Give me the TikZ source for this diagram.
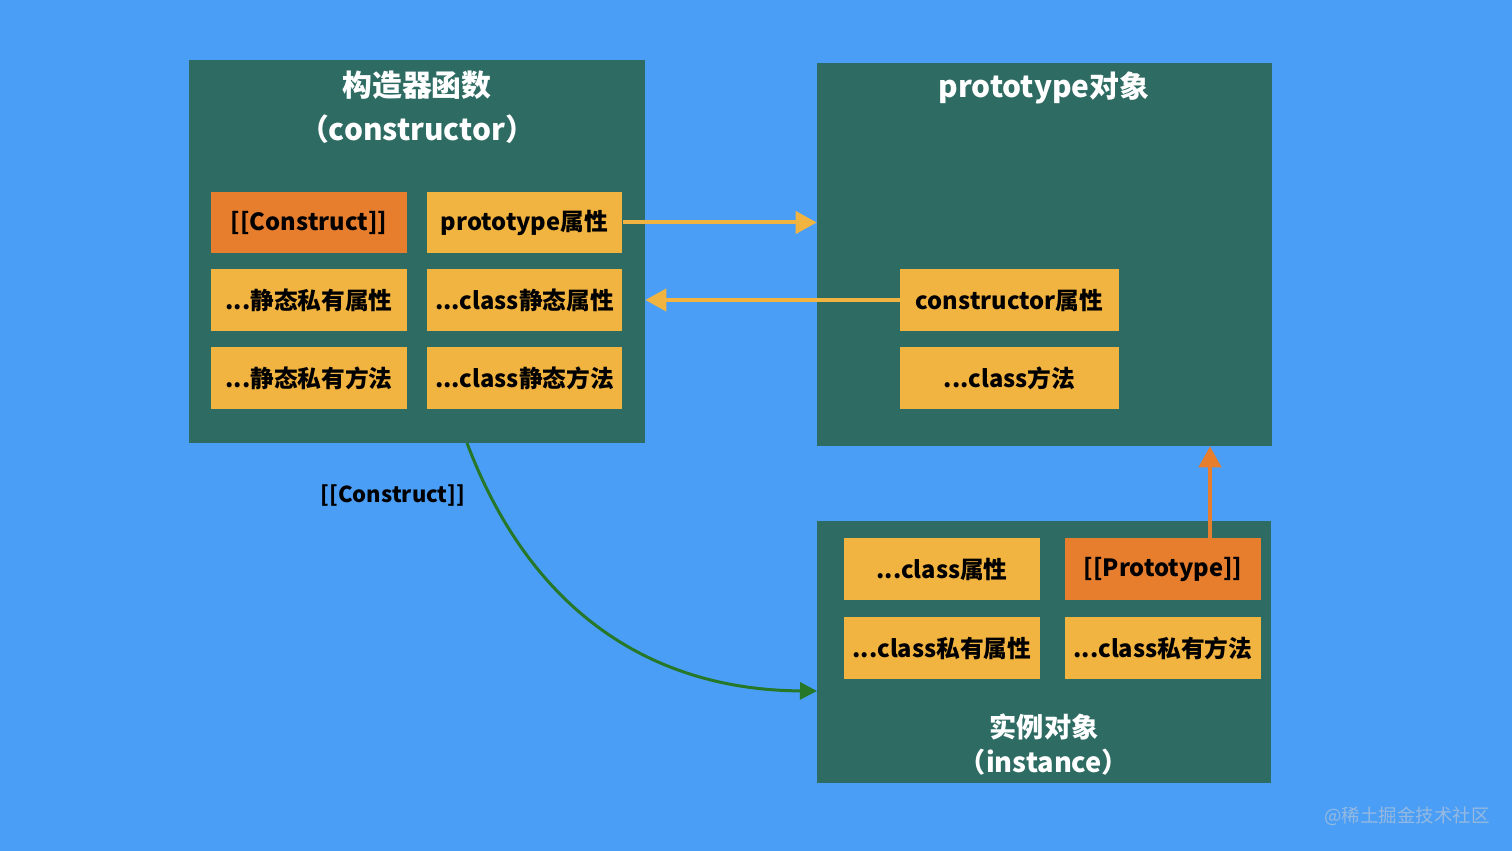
\documentclass[tikz,border=0pt]{standalone}
\usepackage{fontspec}
\setmainfont{Noto Sans CJK SC}
\usetikzlibrary{arrows.meta}
\definecolor{bgblue}{RGB}{74,158,245}
\definecolor{teal}{RGB}{45,107,99}
\definecolor{ybox}{RGB}{242,180,65}
\definecolor{obox}{RGB}{230,126,46}
\definecolor{gline}{RGB}{38,120,40}
\definecolor{wm}{RGB}{150,185,225}
\tikzset{
  panel/.style={fill=teal, draw=none, inner sep=0pt},
  cell/.style={fill=ybox, draw=none, minimum width=3.92cm, minimum height=1.24cm, inner sep=0pt, font=\fontsize{13.5}{16}\selectfont\bfseries, text=black},
  ocell/.style={cell, fill=obox},
  ttl/.style={text=white, font=\fontsize{17}{20}\selectfont\bfseries, align=center},
  yarrow/.style={draw=ybox, line width=0.08cm, -{Triangle[length=0.42cm,width=0.44cm]}},
}
\begin{document}
\begin{tikzpicture}[x=0.02cm,y=-0.02cm]
\useasboundingbox (0,0) rectangle (1512,851);
\fill[bgblue] (0,0) rectangle (1512,851);
% panels
\node[panel, minimum width=9.12cm, minimum height=7.66cm] (ctor) at (417,251.5) {};
\node[panel, minimum width=9.1cm, minimum height=7.66cm] (proto) at (1044.5,254.5) {};
\node[panel, minimum width=9.08cm, minimum height=5.24cm] (inst) at (1044,652) {};
% titles
\node[ttl] (t1) at (417,85) {构造器函数};
\node[ttl] (t1b) at (417,129) {（constructor）};
\node[ttl] (t2) at (1044,88) {prototype对象};
\node[ttl, font=\fontsize{15.5}{18}\selectfont\bfseries] (t3) at (1044,727) {实例对象};
\node[ttl, font=\fontsize{15.5}{18}\selectfont\bfseries] (t3b) at (1044,762) {（instance）};
% left cells
\node[ocell] (c11) at (309,222.5) {[[Construct]]};
\node[cell] (c12) at (524.5,222.5) {prototype属性};
\node[cell] (c21) at (309,300) {...静态私有属性};
\node[cell] (c22) at (524.5,300) {...class静态属性};
\node[cell] (c31) at (309,378) {...静态私有方法};
\node[cell] (c32) at (524.5,378) {...class静态方法};
% right cells
\node[cell, minimum width=4.38cm] (p1) at (1009.5,300) {constructor属性};
\node[cell, minimum width=4.38cm] (p2) at (1009.5,378) {...class方法};
% bottom cells
\node[cell] (i11) at (942,569) {...class属性};
\node[ocell] (i12) at (1163,569) {[[Prototype]]};
\node[cell] (i21) at (942,648) {...class私有属性};
\node[cell] (i22) at (1163,648) {...class私有方法};
% arrows
\draw[yarrow] (c12.east) -- (c12.east -| proto.west);
\draw[yarrow] (p1.west) -- (p1.west -| ctor.east);
\draw[draw=obox, line width=0.08cm, -{Triangle[length=0.42cm,width=0.44cm]}] ([xshift=0.94cm]i12.north) -- ([xshift=0.94cm]i12.north |- proto.south);
\coordinate (gs) at (467,443);
\coordinate (ge) at (817,691);
\draw[draw=gline, line width=0.06cm, -{Triangle[length=0.34cm,width=0.34cm]}] (gs) .. controls (530,610) and (650,690) .. (ge);
\node[font=\fontsize{12.5}{15}\selectfont\bfseries, text=black] (lbl) at (393,496) {[[Construct]]};
\node[font=\fontsize{10.5}{12}\selectfont, text=wm] (wmk) at (1407,816) {@稀土掘金技术社区};
\end{tikzpicture}
\end{document}
